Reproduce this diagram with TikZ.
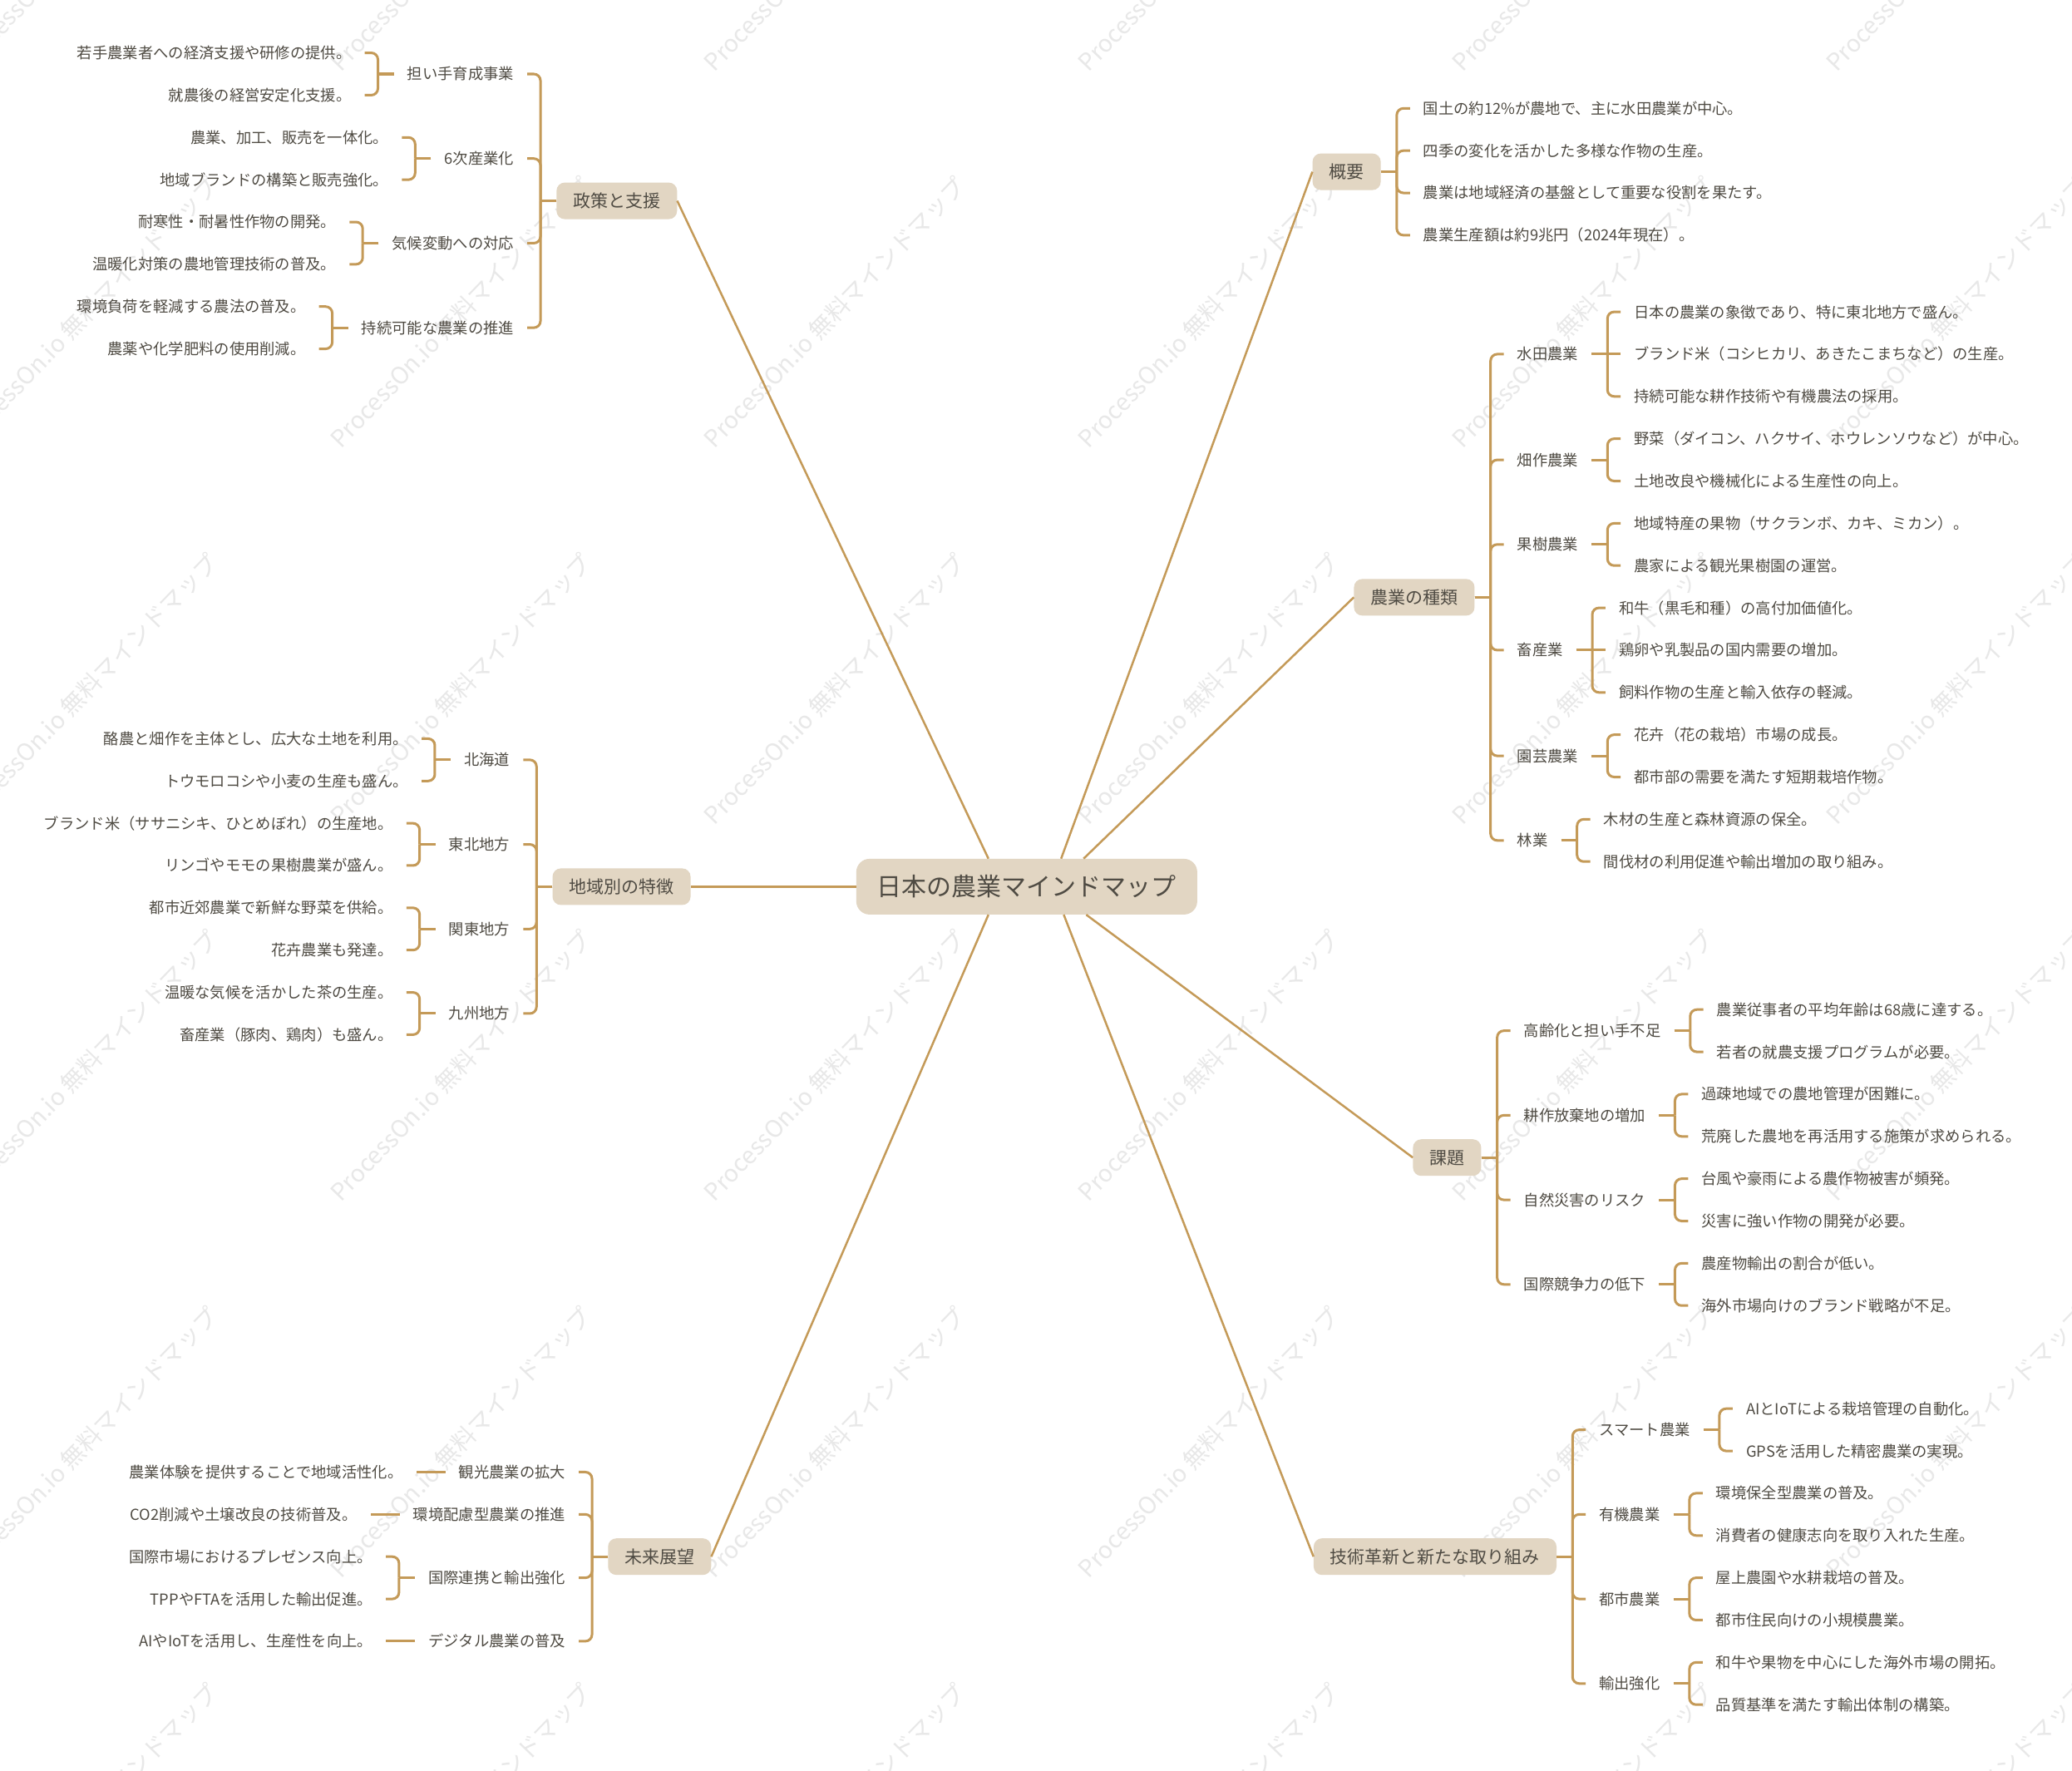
\documentclass[tikz,border=0pt]{standalone}
\usepackage{fontspec}
\setmainfont{Noto Sans CJK JP}
\usetikzlibrary{calc}
\definecolor{boxfill}{HTML}{E2D6C3}
\definecolor{linec}{HTML}{C49A58}
\definecolor{txt}{HTML}{4F4B43}
\definecolor{wm}{HTML}{E8E8E8}
\tikzset{
 rootbox/.style={fill=boxfill, rounded corners=16pt, text=txt, font=\fontsize{30}{36}\selectfont, text height=26.4pt, text depth=3.6pt, inner xsep=25pt, inner ysep=18.5pt},
 mainbox/.style={fill=boxfill, rounded corners=10pt, text=txt, font=\fontsize{21}{25}\selectfont, text height=18.5pt, text depth=2.5pt, inner xsep=20pt, inner ysep=11.5pt},
 sub/.style={text=txt, font=\fontsize{18.3}{22}\selectfont, text height=16.1pt, text depth=2.2pt, inner xsep=16pt, inner ysep=2pt},
 br/.style={draw=linec, line width=3pt},
 spoke/.style={draw=linec, line width=2.5pt},
 wmark/.style={text=wm, font=\fontsize{28.5}{30}\selectfont, rotate=46, anchor=base west, inner sep=0pt},
}
\newcommand\lnkR[2]{\draw[br] (#1.east) -- ++(12,0) coordinate (tmp); \draw[br, rounded corners=8pt] (tmp) |- (#2.west);}
\newcommand\lnkL[2]{\draw[br] (#1.west) -- ++(-12,0) coordinate (tmp); \draw[br, rounded corners=8pt] (tmp) |- (#2.east);}
\newcommand\strR[2]{\draw[br] (#1.east) -- (#2.west);}
\newcommand\strL[2]{\draw[br] (#1.west) -- (#2.east);}
\begin{document}
\begin{tikzpicture}[x=1.589pt, y=-1.589pt]
\useasboundingbox (0,0) rectangle (1568,1340);
\fill[white] (0,0) rectangle (1568,1340);
% watermark
\begin{scope}
\clip (0,0) rectangle (1568,1340);
\foreach \xx [count=\i] in {-25,258,541,824,1107,1390}
  \foreach \yy [count=\j] in {55,340,625,910,1195,1480}
    \node[wmark] (wm-\i-\j) at (\xx,\yy) {ProcessOn.io 無料マインドマップ};
\end{scope}

% root
\node[rootbox] (root) at (777,671) {日本の農業マインドマップ};

% level 1
\node[mainbox, anchor=west] (pol) at (421,152) {政策と支援};
\node[mainbox, anchor=west] (reg) at (418,671) {地域別の特徴};
\node[mainbox, anchor=west] (fut) at (460,1178) {未来展望};
\node[mainbox, anchor=east] (ovw) at (1045,130) {概要};
\node[mainbox, anchor=east] (typ) at (1116,452) {農業の種類};
\node[mainbox, anchor=east] (iss) at (1121,876) {課題};
\node[mainbox, anchor=east] (inn) at (1178,1178) {技術革新と新たな取り組み};

\draw[spoke] ($(root.north)+(-29,0)$) -- (pol.east);
\draw[spoke] (root.west) -- (reg.east);
\draw[spoke] ($(root.south)+(-29,0)$) -- (fut.east);
\draw[spoke] ($(root.north)+(26,0)$) -- (ovw.west);
\draw[spoke] ($(root.north)+(43,0)$) -- (typ.west);
\draw[spoke] ($(root.south)+(45,0)$) -- (iss.west);
\draw[spoke] ($(root.south)+(28,0)$) -- (inn.west);

% ===== 概要 =====
\path (ovw.east) ++(22,-48) node[sub,anchor=west] (o1) {国土の約12\%が農地で、主に水田農業が中心。};
\path (ovw.east) ++(22,-16) node[sub,anchor=west] (o2) {四季の変化を活かした多様な作物の生産。};
\path (ovw.east) ++(22,16) node[sub,anchor=west] (o3) {農業は地域経済の基盤として重要な役割を果たす。};
\path (ovw.east) ++(22,48) node[sub,anchor=west] (o4) {農業生産額は約9兆円（2024年現在）。};
\lnkR{ovw}{o1}\lnkR{ovw}{o2}\lnkR{ovw}{o3}\lnkR{ovw}{o4}

% ===== 農業の種類 =====
\path (typ.east) ++(22,-184) node[sub,anchor=west] (t1) {水田農業};
\path (typ.east) ++(22,-104) node[sub,anchor=west] (t2) {畑作農業};
\path (typ.east) ++(22,-40) node[sub,anchor=west] (t3) {果樹農業};
\path (typ.east) ++(22,40) node[sub,anchor=west] (t4) {畜産業};
\path (typ.east) ++(22,120) node[sub,anchor=west] (t5) {園芸農業};
\path (typ.east) ++(22,184) node[sub,anchor=west] (t6) {林業};
\lnkR{typ}{t1}\lnkR{typ}{t2}\lnkR{typ}{t3}\lnkR{typ}{t4}\lnkR{typ}{t5}\lnkR{typ}{t6}

\path (t1.east) ++(22,-32) node[sub,anchor=west] (t1a) {日本の農業の象徴であり、特に東北地方で盛ん。};
\path (t1.east) ++(22,0) node[sub,anchor=west] (t1b) {ブランド米（コシヒカリ、あきたこまちなど）の生産。};
\path (t1.east) ++(22,32) node[sub,anchor=west] (t1c) {持続可能な耕作技術や有機農法の採用。};
\lnkR{t1}{t1a}\strR{t1}{t1b}\lnkR{t1}{t1c}

\path (t2.east) ++(22,-16) node[sub,anchor=west] (t2a) {野菜（ダイコン、ハクサイ、ホウレンソウなど）が中心。};
\path (t2.east) ++(22,16) node[sub,anchor=west] (t2b) {土地改良や機械化による生産性の向上。};
\lnkR{t2}{t2a}\lnkR{t2}{t2b}

\path (t3.east) ++(22,-16) node[sub,anchor=west] (t3a) {地域特産の果物（サクランボ、カキ、ミカン）。};
\path (t3.east) ++(22,16) node[sub,anchor=west] (t3b) {農家による観光果樹園の運営。};
\lnkR{t3}{t3a}\lnkR{t3}{t3b}

\path (t4.east) ++(22,-32) node[sub,anchor=west] (t4a) {和牛（黒毛和種）の高付加価値化。};
\path (t4.east) ++(22,0) node[sub,anchor=west] (t4b) {鶏卵や乳製品の国内需要の増加。};
\path (t4.east) ++(22,32) node[sub,anchor=west] (t4c) {飼料作物の生産と輸入依存の軽減。};
\lnkR{t4}{t4a}\strR{t4}{t4b}\lnkR{t4}{t4c}

\path (t5.east) ++(22,-16) node[sub,anchor=west] (t5a) {花卉（花の栽培）市場の成長。};
\path (t5.east) ++(22,16) node[sub,anchor=west] (t5b) {都市部の需要を満たす短期栽培作物。};
\lnkR{t5}{t5a}\lnkR{t5}{t5b}

\path (t6.east) ++(22,-16) node[sub,anchor=west] (t6a) {木材の生産と森林資源の保全。};
\path (t6.east) ++(22,16) node[sub,anchor=west] (t6b) {間伐材の利用促進や輸出増加の取り組み。};
\lnkR{t6}{t6a}\lnkR{t6}{t6b}

% ===== 課題 =====
\path (iss.east) ++(22,-96) node[sub,anchor=west] (i1) {高齢化と担い手不足};
\path (iss.east) ++(22,-32) node[sub,anchor=west] (i2) {耕作放棄地の増加};
\path (iss.east) ++(22,32) node[sub,anchor=west] (i3) {自然災害のリスク};
\path (iss.east) ++(22,96) node[sub,anchor=west] (i4) {国際競争力の低下};
\lnkR{iss}{i1}\lnkR{iss}{i2}\lnkR{iss}{i3}\lnkR{iss}{i4}

\path (i1.east) ++(22,-16) node[sub,anchor=west] (i1a) {農業従事者の平均年齢は68歳に達する。};
\path (i1.east) ++(22,16) node[sub,anchor=west] (i1b) {若者の就農支援プログラムが必要。};
\lnkR{i1}{i1a}\lnkR{i1}{i1b}
\path (i2.east) ++(22,-16) node[sub,anchor=west] (i2a) {過疎地域での農地管理が困難に。};
\path (i2.east) ++(22,16) node[sub,anchor=west] (i2b) {荒廃した農地を再活用する施策が求められる。};
\lnkR{i2}{i2a}\lnkR{i2}{i2b}
\path (i3.east) ++(22,-16) node[sub,anchor=west] (i3a) {台風や豪雨による農作物被害が頻発。};
\path (i3.east) ++(22,16) node[sub,anchor=west] (i3b) {災害に強い作物の開発が必要。};
\lnkR{i3}{i3a}\lnkR{i3}{i3b}
\path (i4.east) ++(22,-16) node[sub,anchor=west] (i4a) {農産物輸出の割合が低い。};
\path (i4.east) ++(22,16) node[sub,anchor=west] (i4b) {海外市場向けのブランド戦略が不足。};
\lnkR{i4}{i4a}\lnkR{i4}{i4b}

% ===== 技術革新と新たな取り組み =====
\path (inn.east) ++(22,-96) node[sub,anchor=west] (n1) {スマート農業};
\path (inn.east) ++(22,-32) node[sub,anchor=west] (n2) {有機農業};
\path (inn.east) ++(22,32) node[sub,anchor=west] (n3) {都市農業};
\path (inn.east) ++(22,96) node[sub,anchor=west] (n4) {輸出強化};
\lnkR{inn}{n1}\lnkR{inn}{n2}\lnkR{inn}{n3}\lnkR{inn}{n4}

\path (n1.east) ++(22,-16) node[sub,anchor=west] (n1a) {AIとIoTによる栽培管理の自動化。};
\path (n1.east) ++(22,16) node[sub,anchor=west] (n1b) {GPSを活用した精密農業の実現。};
\lnkR{n1}{n1a}\lnkR{n1}{n1b}
\path (n2.east) ++(22,-16) node[sub,anchor=west] (n2a) {環境保全型農業の普及。};
\path (n2.east) ++(22,16) node[sub,anchor=west] (n2b) {消費者の健康志向を取り入れた生産。};
\lnkR{n2}{n2a}\lnkR{n2}{n2b}
\path (n3.east) ++(22,-16) node[sub,anchor=west] (n3a) {屋上農園や水耕栽培の普及。};
\path (n3.east) ++(22,16) node[sub,anchor=west] (n3b) {都市住民向けの小規模農業。};
\lnkR{n3}{n3a}\lnkR{n3}{n3b}
\path (n4.east) ++(22,-16) node[sub,anchor=west] (n4a) {和牛や果物を中心にした海外市場の開拓。};
\path (n4.east) ++(22,16) node[sub,anchor=west] (n4b) {品質基準を満たす輸出体制の構築。};
\lnkR{n4}{n4a}\lnkR{n4}{n4b}

% ===== 政策と支援 =====
\path (pol.west) ++(-22,-96) node[sub,anchor=east] (p1) {担い手育成事業};
\path (pol.west) ++(-22,-32) node[sub,anchor=east] (p2) {6次産業化};
\path (pol.west) ++(-22,32) node[sub,anchor=east] (p3) {気候変動への対応};
\path (pol.west) ++(-22,96) node[sub,anchor=east] (p4) {持続可能な農業の推進};
\lnkL{pol}{p1}\lnkL{pol}{p2}\lnkL{pol}{p3}\lnkL{pol}{p4}

\path (p1.west) ++(-22,-16) node[sub,anchor=east] (p1a) {若手農業者への経済支援や研修の提供。};
\path (p1.west) ++(-22,16) node[sub,anchor=east] (p1b) {就農後の経営安定化支援。};
\lnkL{p1}{p1a}\lnkL{p1}{p1b}
\path (p2.west) ++(-22,-16) node[sub,anchor=east] (p2a) {農業、加工、販売を一体化。};
\path (p2.west) ++(-22,16) node[sub,anchor=east] (p2b) {地域ブランドの構築と販売強化。};
\lnkL{p2}{p2a}\lnkL{p2}{p2b}
\path (p3.west) ++(-22,-16) node[sub,anchor=east] (p3a) {耐寒性・耐暑性作物の開発。};
\path (p3.west) ++(-22,16) node[sub,anchor=east] (p3b) {温暖化対策の農地管理技術の普及。};
\lnkL{p3}{p3a}\lnkL{p3}{p3b}
\path (p4.west) ++(-22,-16) node[sub,anchor=east] (p4a) {環境負荷を軽減する農法の普及。};
\path (p4.west) ++(-22,16) node[sub,anchor=east] (p4b) {農薬や化学肥料の使用削減。};
\lnkL{p4}{p4a}\lnkL{p4}{p4b}

% ===== 地域別の特徴 =====
\path (reg.west) ++(-22,-96) node[sub,anchor=east] (r1) {北海道};
\path (reg.west) ++(-22,-32) node[sub,anchor=east] (r2) {東北地方};
\path (reg.west) ++(-22,32) node[sub,anchor=east] (r3) {関東地方};
\path (reg.west) ++(-22,96) node[sub,anchor=east] (r4) {九州地方};
\lnkL{reg}{r1}\lnkL{reg}{r2}\lnkL{reg}{r3}\lnkL{reg}{r4}

\path (r1.west) ++(-22,-16) node[sub,anchor=east] (r1a) {酪農と畑作を主体とし、広大な土地を利用。};
\path (r1.west) ++(-22,16) node[sub,anchor=east] (r1b) {トウモロコシや小麦の生産も盛ん。};
\lnkL{r1}{r1a}\lnkL{r1}{r1b}
\path (r2.west) ++(-22,-16) node[sub,anchor=east] (r2a) {ブランド米（ササニシキ、ひとめぼれ）の生産地。};
\path (r2.west) ++(-22,16) node[sub,anchor=east] (r2b) {リンゴやモモの果樹農業が盛ん。};
\lnkL{r2}{r2a}\lnkL{r2}{r2b}
\path (r3.west) ++(-22,-16) node[sub,anchor=east] (r3a) {都市近郊農業で新鮮な野菜を供給。};
\path (r3.west) ++(-22,16) node[sub,anchor=east] (r3b) {花卉農業も発達。};
\lnkL{r3}{r3a}\lnkL{r3}{r3b}
\path (r4.west) ++(-22,-16) node[sub,anchor=east] (r4a) {温暖な気候を活かした茶の生産。};
\path (r4.west) ++(-22,16) node[sub,anchor=east] (r4b) {畜産業（豚肉、鶏肉）も盛ん。};
\lnkL{r4}{r4a}\lnkL{r4}{r4b}

% ===== 未来展望 =====
\path (fut.west) ++(-22,-64) node[sub,anchor=east] (f1) {観光農業の拡大};
\path (fut.west) ++(-22,-32) node[sub,anchor=east] (f2) {環境配慮型農業の推進};
\path (fut.west) ++(-22,16) node[sub,anchor=east] (f3) {国際連携と輸出強化};
\path (fut.west) ++(-22,64) node[sub,anchor=east] (f4) {デジタル農業の普及};
\lnkL{fut}{f1}\lnkL{fut}{f2}\lnkL{fut}{f3}\lnkL{fut}{f4}

\path (f1.west) ++(-22,0) node[sub,anchor=east] (f1a) {農業体験を提供することで地域活性化。};
\strL{f1}{f1a}
\path (f2.west) ++(-22,0) node[sub,anchor=east] (f2a) {CO2削減や土壌改良の技術普及。};
\strL{f2}{f2a}
\path (f3.west) ++(-22,-16) node[sub,anchor=east] (f3a) {国際市場におけるプレゼンス向上。};
\path (f3.west) ++(-22,16) node[sub,anchor=east] (f3b) {TPPやFTAを活用した輸出促進。};
\lnkL{f3}{f3a}\lnkL{f3}{f3b}
\path (f4.west) ++(-22,0) node[sub,anchor=east] (f4a) {AIやIoTを活用し、生産性を向上。};
\strL{f4}{f4a}
\end{tikzpicture}
\end{document}
